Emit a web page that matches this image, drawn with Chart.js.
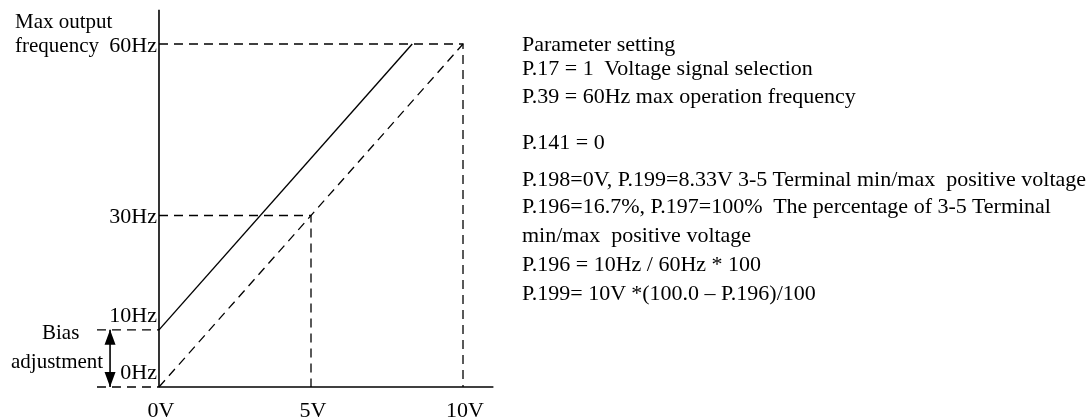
<!DOCTYPE html>
<html lang="en">
<head>
<meta charset="UTF-8" />
<title>Bias adjustment - voltage signal</title>
<script src="https://cdn.jsdelivr.net/npm/chart.js"></script>
<style>
  body {
    margin: 0;
    background: #fff;
    width: 1092px;
    height: 418px;
    overflow: hidden;
    position: relative;
    font-family: 'Liberation Serif', 'Times New Roman', serif;
    color: #000;
  }
  #wrap { position: absolute; left: 0; top: 0; width: 1092px; height: 418px; }
  .txt { position: absolute; font-size: 21px; line-height: 21px; white-space: pre; }
  .note { font-size: 22px; line-height: 22px; left: 522px; }
</style>
</head>
<body>
<div id="wrap"><canvas id="chart"></canvas></div>

<div class="txt" style="left:15px; top:11px;">Max output</div>
<div class="txt" style="left:15px; top:35px;">frequency</div>
<div class="txt" style="left:42px; top:322px;">Bias</div>
<div class="txt" style="left:11px; top:351px;">adjustment</div>
<div id="notes"></div>

<script>
// axis ticks
const voltTicks = [0, 5, 10];
const voltLabels = ['0V', '5V', '10V'];
const freqTicks = [0, 10, 30, 60];
const freqLabels = ['0Hz', '10Hz', '30Hz', '60Hz'];

// solid line: 10Hz at 0V, reaches 60Hz at 8.33V
const setX = [0, 8.33];
const setY = [10, 60];
// dashed reference line 0V/0Hz -> 10V/60Hz
const refX = [0, 10];
const refY = [0, 60];
// guide points (dashed drop lines)
const guideX = [5, 10];
const guideY = [30, 60];
// axis extents
const axisX = [0, 11];
const axisY = [0, 66];
// bias band
const biasY = [0, 10];
const biasLeft = -2.04;
const arrowX = -1.61;

const notes = [
  'Parameter setting',
  'P.17 = 1  Voltage signal selection',
  'P.39 = 60Hz max operation frequency',
  'P.141 = 0',
  'P.198=0V, P.199=8.33V 3-5 Terminal min/max  positive voltage',
  'P.196=16.7%, P.197=100%  The percentage of 3-5 Terminal',
  'min/max  positive voltage',
  'P.196 = 10Hz / 60Hz * 100',
  'P.199= 10V *(100.0 \u2013 P.196)/100'
];
const noteTops = [33, 57, 85, 131, 168, 195, 224, 253, 282];

const notesBox = document.getElementById('notes');
notes.forEach((t, i) => {
  const d = document.createElement('div');
  d.className = 'txt note';
  d.style.top = noteTops[i] + 'px';
  d.textContent = t;
  notesBox.appendChild(d);
});

const pts = (xs, ys) => xs.map((x, i) => ({ x: x, y: ys[i] }));
const DASH = [9, 6];
const solid = { borderColor: '#000', borderWidth: 1.4, pointRadius: 0, fill: false, clip: false, tension: 0 };
const dashed = Object.assign({}, solid, { borderDash: DASH, borderWidth: 1.3 });

const datasets = [
  // axes
  Object.assign({}, solid, { data: pts([axisX[0], axisX[1]], [0, 0]), borderWidth: 1.6 }),
  Object.assign({}, solid, { data: pts([0, 0], [axisY[0], axisY[1]]), borderWidth: 1.6 }),
  // lines
  Object.assign({}, solid, { data: pts(setX, setY) }),
  Object.assign({}, dashed, { data: pts(refX, refY) }),
  // 60Hz / 10V guide
  Object.assign({}, dashed, { data: pts([0, guideX[1], guideX[1]], [guideY[1], guideY[1], 0]) }),
  // 30Hz / 5V guide
  Object.assign({}, dashed, { data: pts([0, guideX[0], guideX[0]], [guideY[0], guideY[0], 0]) }),
  // bias dashes
  Object.assign({}, dashed, { data: pts([biasLeft, 0], [biasY[1], biasY[1]]) }),
  Object.assign({}, dashed, { data: pts([biasLeft, 0], [biasY[0], biasY[0]]) }),
  // bias arrow shaft
  Object.assign({}, solid, { data: pts([arrowX, arrowX], biasY), borderWidth: 1.6 })
];

const labelPlugin = {
  id: 'labels',
  afterDatasetsDraw(chart) {
    const { ctx, scales: { x, y } } = chart;
    ctx.save();
    ctx.fillStyle = '#000';
    ctx.font = '22px "Liberation Serif", serif';
    // x tick labels
    ctx.textAlign = 'center';
    ctx.textBaseline = 'alphabetic';
    voltTicks.forEach((v, i) => ctx.fillText(voltLabels[i], x.getPixelForValue(v) + 2, 417));
    // y tick labels
    ctx.textAlign = 'right';
    const x0 = x.getPixelForValue(0) - 2;
    freqTicks.forEach((v, i) => {
      let py = y.getPixelForValue(v);
      // low ticks sit above their line, the others are centred on it
      const base = (v === 0 || v === 10) ? py - 8 : py + 7.5;
      ctx.fillText(freqLabels[i], x0, base);
    });
    // bias arrowheads
    const ax = x.getPixelForValue(arrowX);
    const top = y.getPixelForValue(biasY[1]);
    const bot = y.getPixelForValue(biasY[0]);
    ctx.beginPath();
    ctx.moveTo(ax, top); ctx.lineTo(ax - 5.5, top + 15); ctx.lineTo(ax + 5.5, top + 15); ctx.closePath();
    ctx.moveTo(ax, bot); ctx.lineTo(ax - 5.5, bot - 15); ctx.lineTo(ax + 5.5, bot - 15); ctx.closePath();
    ctx.fill();
    ctx.restore();
  }
};

new Chart(document.getElementById('chart'), {
  type: 'line',
  data: { datasets: datasets },
  options: {
    responsive: true,
    maintainAspectRatio: false,
    animation: false,
    layout: { padding: 0 },
    plugins: { legend: { display: false }, tooltip: { enabled: false } },
    scales: {
      x: { type: 'linear', display: false, min: -5.23, max: 30.69 },
      y: { type: 'linear', display: false, min: -5.42, max: 67.70 }
    }
  },
  plugins: [labelPlugin]
});
</script>
</body>
</html>
